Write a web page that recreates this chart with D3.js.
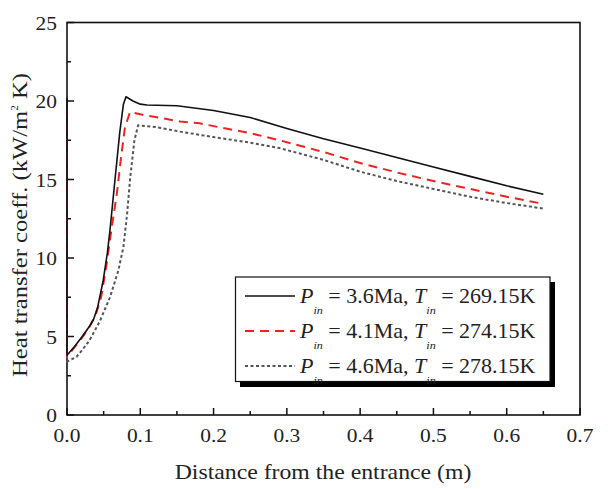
<!DOCTYPE html>
<html><head><meta charset="utf-8">
<script src="https://cdn.jsdelivr.net/npm/d3@7"></script>
<style>body{margin:0;background:#fff}svg{display:block}text{font-family:"Liberation Serif","Times New Roman",serif;fill:#222}</style>
</head><body><svg id="c" width="608" height="489"></svg>
<script>
const xTicks = [0, 0.1, 0.2, 0.3, 0.4, 0.5, 0.6, 0.7];
const yTicks = [0, 5, 10, 15, 20, 25];
const seriesNames = ["3.6Ma|269.15K", "4.1Ma|274.15K", "4.6Ma|278.15K"];
const xA = [0, 0, 0.01, 0.02, 0.03, 0.036, 0.042, 0.0495, 0.055, 0.0587, 0.0655, 0.072, 0.077, 0.0805, 0.09, 0.1, 0.109, 0.15, 0.2, 0.25, 0.3, 0.35, 0.4, 0.45, 0.5, 0.55, 0.6, 0.65];
const yA = [20.2, 3.8, 4.35, 4.95, 5.6, 6.05, 6.9, 8.6, 10.3, 11.8, 15.0, 18.0, 19.8, 20.27, 20.0, 19.8, 19.75, 19.7, 19.4, 18.95, 18.25, 17.6, 17.0, 16.4, 15.8, 15.2, 14.6, 14.06];
const xB = [0, 0, 0.01, 0.02, 0.03, 0.04, 0.047, 0.054, 0.06, 0.068, 0.074, 0.079, 0.086, 0.1, 0.154, 0.181, 0.2, 0.25, 0.29, 0.35, 0.4, 0.45, 0.5, 0.55, 0.6, 0.65];
const yB = [19.5, 3.7, 4.3, 4.9, 5.55, 6.5, 7.6, 9.6, 11.6, 14.1, 16.5, 18.3, 19.3, 19.15, 18.7, 18.58, 18.4, 17.95, 17.5, 16.75, 16.05, 15.45, 14.9, 14.4, 13.9, 13.45];
const xC = [0, 0, 0.013, 0.02, 0.03, 0.036, 0.045, 0.0587, 0.07, 0.077, 0.082, 0.086, 0.092, 0.097, 0.12, 0.154, 0.2, 0.25, 0.29, 0.35, 0.4, 0.45, 0.5, 0.55, 0.6, 0.65];
const yC = [18.5, 3.4, 3.7, 4.1, 4.7, 5.2, 6.0, 7.5, 9.2, 10.7, 12.8, 15.0, 17.5, 18.45, 18.35, 18.05, 17.7, 17.35, 17.0, 16.25, 15.5, 14.9, 14.4, 13.9, 13.5, 13.15];

const SX = 1.1; // horizontal glyph stretch seen in the reference
const svg = d3.select("#c");
const x = d3.scaleLinear().domain([0, 0.7]).range([67, 580]);
const y = d3.scaleLinear().domain([0, 25]).range([415, 22.5]);

svg.append("rect").attr("x", 67).attr("y", 22.5).attr("width", 513).attr("height", 392.5)
  .attr("fill", "none").attr("stroke", "#111").attr("stroke-width", 1.6);

const xMinor = d3.range(0.05, 0.7, 0.1);
const gx = svg.append("g");
gx.selectAll("line.maj").data(xTicks).join("line").attr("class", "maj").attr("x1", d => x(d)).attr("x2", d => x(d))
  .attr("y1", 415).attr("y2", 408).attr("stroke", "#111").attr("stroke-width", 1.5);
gx.selectAll("line.min").data(xMinor).join("line").attr("class", "min").attr("x1", d => x(d)).attr("x2", d => x(d))
  .attr("y1", 415).attr("y2", 411).attr("stroke", "#111").attr("stroke-width", 1.5);
gx.selectAll("text").data(xTicks).join("text")
  .attr("transform", d => `translate(${x(d)},442) scale(${SX},1)`)
  .attr("text-anchor", "middle").attr("font-size", 19.5).text(d => d.toFixed(1));

const yMinor = d3.range(2.5, 25, 5);
const gy = svg.append("g");
gy.selectAll("line.maj").data(yTicks).join("line").attr("class", "maj").attr("x1", 67).attr("x2", 74)
  .attr("y1", d => y(d)).attr("y2", d => y(d)).attr("stroke", "#111").attr("stroke-width", 1.5);
gy.selectAll("line.min").data(yMinor).join("line").attr("class", "min").attr("x1", 67).attr("x2", 71)
  .attr("y1", d => y(d)).attr("y2", d => y(d)).attr("stroke", "#111").attr("stroke-width", 1.5);
gy.selectAll("text").data(yTicks).join("text")
  .attr("transform", d => `translate(57,${y(d) + 7}) scale(${SX},1)`)
  .attr("text-anchor", "end").attr("font-size", 19.5).text(d => d);

svg.append("text").attr("transform", "translate(323,479) scale(1.08,1)").attr("text-anchor", "middle").attr("font-size", 22)
  .text("Distance from the entrance (m)");
const yt = svg.append("text").attr("transform", "translate(27,225) rotate(-90) scale(1.12,1)").attr("text-anchor", "middle").attr("font-size", 22);
yt.append("tspan").text("Heat transfer coeff. (kW/m");
yt.append("tspan").attr("font-size", 10).attr("dy", -9).text("2");
yt.append("tspan").attr("dy", 9).text(" K)");

const line = d3.line().x(d => x(d[0])).y(d => y(d[1]));
const styles = [
  {stroke: "#111", w: 1.6, dash: null},
  {stroke: "#ee2222", w: 2, dash: "9,6"},
  {stroke: "#555", w: 2, dash: "3,2.5"}
];
const data = [d3.zip(xA, yA), d3.zip(xB, yB), d3.zip(xC, yC)];
[2, 1, 0].forEach(i => {
  svg.append("path").attr("d", line(data[i])).attr("fill", "none").attr("stroke", styles[i].stroke)
    .attr("stroke-width", styles[i].w).attr("stroke-dasharray", styles[i].dash).attr("stroke-linejoin", "round");
});

svg.append("rect").attr("x", 240).attr("y", 282).attr("width", 315).attr("height", 105).attr("fill", "#000");
svg.append("rect").attr("x", 235.5).attr("y", 277).attr("width", 314.5).attr("height", 104.5)
  .attr("fill", "#fff").attr("stroke", "#111").attr("stroke-width", 1.2);
seriesNames.forEach((s, i) => {
  const [p, t] = s.split("|");
  const ly = 296 + i * 35;
  svg.append("line").attr("x1", 245).attr("x2", 295).attr("y1", ly).attr("y2", ly)
    .attr("stroke", styles[i].stroke).attr("stroke-width", styles[i].w).attr("stroke-dasharray", styles[i].dash);
  const tx = svg.append("text").attr("transform", `translate(300,${ly + 7}) scale(${SX},1)`).attr("font-size", 20);
  tx.append("tspan").attr("font-style", "italic").text("P");
  tx.append("tspan").attr("font-style", "italic").attr("font-size", 11).attr("dy", 11).text("in");
  tx.append("tspan").attr("dy", -11).text(" = " + p + ", ");
  tx.append("tspan").attr("font-style", "italic").text("T");
  tx.append("tspan").attr("font-style", "italic").attr("font-size", 11).attr("dy", 11).text("in");
  tx.append("tspan").attr("dy", -11).text(" = " + t);
});
</script></body></html>
